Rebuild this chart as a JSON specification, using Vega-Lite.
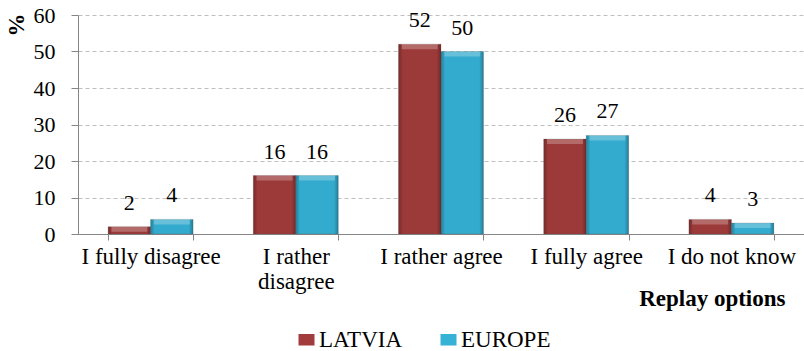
{
  "$schema": "https://vega.github.io/schema/vega-lite/v6.json",
  "width": 726,
  "height": 219,
  "autosize": {"type": "none"},
  "padding": {"left": 78, "top": 15, "right": 0, "bottom": 117},
  "background": "white",
  "data": {
    "values": [
      {"option": "I fully disagree", "country": "LATVIA", "value": 2},
      {"option": "I fully disagree", "country": "EUROPE", "value": 4},
      {"option": "I rather disagree", "country": "LATVIA", "value": 16},
      {"option": "I rather disagree", "country": "EUROPE", "value": 16},
      {"option": "I rather agree", "country": "LATVIA", "value": 52},
      {"option": "I rather agree", "country": "EUROPE", "value": 50},
      {"option": "I fully agree", "country": "LATVIA", "value": 26},
      {"option": "I fully agree", "country": "EUROPE", "value": 27},
      {"option": "I do not know", "country": "LATVIA", "value": 4},
      {"option": "I do not know", "country": "EUROPE", "value": 3}
    ]
  },
  "encoding": {
    "x": {
      "field": "option",
      "type": "nominal",
      "sort": null,
      "scale": {"paddingInner": 0.415, "paddingOuter": 0.2075},
      "axis": {
        "title": "Replay options",
        "titleFont": "Liberation Serif, Times New Roman, serif",
        "titleFontSize": 23,
        "titleFontWeight": "bold",
        "titleColor": "black",
        "titleAnchor": null,
        "titleAlign": "right",
        "titleBaseline": "alphabetic",
        "titleX": 707,
        "titleY": 71,
        "labelAngle": 0,
        "labelFont": "Liberation Serif, Times New Roman, serif",
        "labelFontSize": 23,
        "labelColor": "black",
        "labelLineHeight": 25,
        "labelPadding": 5,
        "labelExpr": "datum.value == 'I rather disagree' ? ['I rather', 'disagree'] : datum.value",
        "domainColor": "#868686",
        "tickColor": "#868686",
        "tickSize": 6,
        "tickBand": "extent",
        "grid": false
      }
    },
    "xOffset": {
      "field": "country",
      "type": "nominal",
      "sort": ["LATVIA", "EUROPE"],
      "scale": {"paddingInner": 0, "paddingOuter": 0}
    },
    "y": {
      "field": "value",
      "type": "quantitative",
      "scale": {"domain": [0, 60], "nice": false},
      "axis": {
        "title": "%",
        "titleFont": "Liberation Serif, Times New Roman, serif",
        "titleFontSize": 23,
        "titleFontWeight": "bold",
        "titleColor": "black",
        "titleAngle": -90,
        "titleAlign": "right",
        "titleBaseline": "middle",
        "titleAnchor": null,
        "titleX": -62,
        "titleY": -2,
        "values": [0, 10, 20, 30, 40, 50, 60],
        "labelFont": "Liberation Serif, Times New Roman, serif",
        "labelFontSize": 22,
        "labelColor": "black",
        "labelPadding": 16,
        "domainColor": "#868686",
        "tickColor": "#868686",
        "tickSize": 7,
        "gridColor": "#bfbfbf",
        "gridDash": [4, 3],
        "gridWidth": 1
      }
    }
  },
  "layer": [
    {
      "mark": {"type": "bar", "stroke": "#5a5a5a", "strokeWidth": 0.4, "strokeOpacity": 0.6},
      "encoding": {
        "color": {
          "field": "country",
          "type": "nominal",
          "scale": {"domain": ["LATVIA", "EUROPE"], "range": ["#a23b3b", "#35b2d6"]},
          "legend": {
            "title": null,
            "orient": "none",
            "direction": "horizontal",
            "legendX": 217,
            "legendY": 313,
            "padding": 0,
            "symbolType": "M-1,-0.72H1V0.72H-1Z",
            "symbolSize": 256,
            "symbolStrokeWidth": 0,
            "labelFont": "Liberation Serif, Times New Roman, serif",
            "labelFontSize": 23,
            "labelColor": "black",
            "labelOffset": 1,
            "columnPadding": 34
          }
        }
      }
    },
    {
      "mark": {
        "type": "bar",
        "color": {
          "gradient": "linear",
          "x1": 0, "x2": 1, "y1": 0, "y2": 0,
          "stops": [
            {"offset": 0, "color": "rgba(0,0,0,0.28)"},
            {"offset": 0.1, "color": "rgba(0,0,0,0.04)"},
            {"offset": 0.9, "color": "rgba(0,0,0,0.04)"},
            {"offset": 1, "color": "rgba(0,0,0,0.3)"}
          ]
        }
      }
    },
    {
      "mark": {"type": "tick", "orient": "horizontal", "color": "white", "opacity": 0.25, "thickness": 5, "size": 36, "yOffset": 2.5},
      "encoding": {}
    },
    {
      "mark": {"type": "text", "font": "Liberation Serif, Times New Roman, serif", "fontSize": 22, "color": "black", "baseline": "alphabetic", "dy": -17},
      "encoding": {"text": {"field": "value", "type": "quantitative"}}
    }
  ],
  "config": {"view": {"stroke": null}}
}
